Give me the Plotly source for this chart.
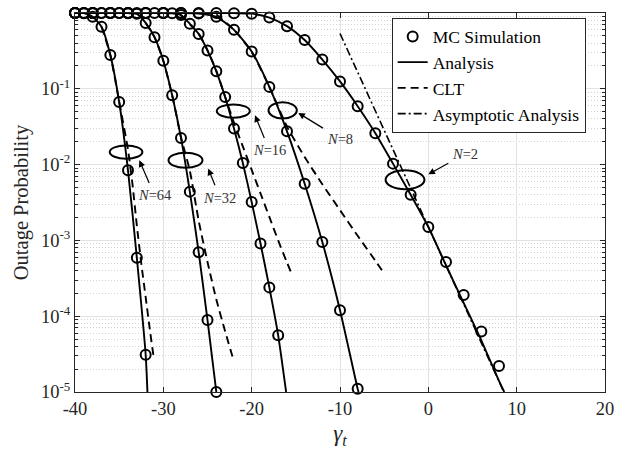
import plotly.graph_objects as go

# ---------------- data ----------------
# Monte-Carlo simulation markers
mc64_x = [-40, -39, -38, -37, -36, -35, -34, -33, -32]
mc64_y = [1.0, 0.995, 0.89, 0.66, 0.28, 0.067, 0.0084, 5.9e-4, 3.1e-5]

mc32_x = [-40, -39, -38, -37, -36, -35, -34, -33, -32, -31, -30, -29, -28, -27, -26, -25, -24]
mc32_y = [1.0, 1.0, 1.0, 1.0, 1.0, 1.0, 0.995, 0.975, 0.74, 0.48, 0.235, 0.082, 0.0225, 0.0044,
          7.0e-4, 8.9e-5, 1.0e-5]

mc16_x = [-40, -39, -38, -37, -36, -35, -34, -33, -32, -31, -30, -29, -28, -27, -26, -25, -24,
          -23, -22, -21, -20, -19, -18, -17]
mc16_y = [1.0, 1.0, 1.0, 1.0, 1.0, 1.0, 1.0, 1.0, 1.0, 1.0, 1.0, 0.99, 0.94, 0.72, 0.53, 0.32, 0.17,
          0.078, 0.030, 0.0105, 0.0032, 9.1e-4, 2.4e-4, 5.6e-5]

mc8_x = [-40, -38, -36, -34, -32, -30, -28, -26, -24, -22, -20, -18, -16, -14, -12, -10, -8]
mc8_y = [1.0, 1.0, 1.0, 1.0, 1.0, 1.0, 0.998, 0.985, 0.89, 0.60, 0.31, 0.106, 0.0275, 0.0056,
         9.5e-4, 1.2e-4, 1.1e-5]

mc2_x = [-40, -38, -36, -34, -32, -30, -28, -26, -24, -22, -20, -18, -16, -14, -12, -10, -8, -6,
         -4, -2, 0, 2, 4, 6, 8]
mc2_y = [1.0, 1.0, 1.0, 1.0, 1.0, 1.0, 1.0, 1.0, 1.0, 0.995, 0.98, 0.87, 0.67, 0.44, 0.243, 0.125,
         0.059, 0.026, 0.0103, 0.004, 0.0015, 5.2e-4, 1.9e-4, 6.3e-5, 2.2e-5]

# Analysis curves
an64_x = [-40, -39, -38, -37, -36, -35, -34, -33, -32, -31.8]
an64_y = [1.0, 0.995, 0.89, 0.66, 0.28, 0.067, 0.0084, 5.9e-4, 3.1e-5, 1.0e-5]

an32_x = [-40, -35, -34, -33, -32, -31, -30, -29, -28, -27, -26, -25, -24]
an32_y = [1.0, 1.0, 0.995, 0.975, 0.74, 0.48, 0.235, 0.082, 0.0225, 0.0044, 7.0e-4, 8.9e-5, 1.0e-5]

an16_x = [-40, -31, -30, -29, -28, -27, -26, -25, -24, -23, -22, -21, -20, -19, -18, -17, -16.1]
an16_y = [1.0, 1.0, 1.0, 0.99, 0.94, 0.72, 0.53, 0.32, 0.17, 0.078, 0.030, 0.0105, 0.0032,
          9.1e-4, 2.4e-4, 5.6e-5, 1.0e-5]

an8_x = [-40, -30, -28, -26, -24, -22, -20, -18, -16, -14, -12, -10, -8, -7.9]
an8_y = [1.0, 1.0, 0.998, 0.985, 0.89, 0.60, 0.31, 0.106, 0.0275, 0.0056, 9.5e-4, 1.2e-4,
         1.1e-5, 1.0e-5]

an2_x = [-40, -24, -22, -20, -18, -16, -14, -12, -10, -8, -6, -4, -2, 0, 2, 4, 6, 8, 8.6]
an2_y = [1.0, 1.0, 0.995, 0.98, 0.87, 0.67, 0.44, 0.243, 0.125, 0.059, 0.026, 0.0103, 0.004,
         0.0015, 4.7e-4, 1.5e-4, 4.8e-5, 1.4e-5, 1.0e-5]

# CLT approximations
clt64_x = [-37, -36, -35, -34, -33.5, -33, -32.5, -32, -31.5, -31.1]
clt64_y = [0.66, 0.279, 0.0676, 0.0158, 5.6e-3, 1.58e-3, 5.0e-4, 1.78e-4, 6.3e-5, 2.9e-5]

clt32_x = [-32, -31, -30, -29, -28, -27, -26, -25, -24, -23, -22.1]
clt32_y = [0.74, 0.48, 0.233, 0.082, 0.0229, 8.3e-3, 1.82e-3, 5.2e-4, 1.66e-4, 6.3e-5, 2.75e-5]

clt16_x = [-28, -27, -26, -25, -24, -23, -22, -21, -20, -19, -18, -17, -16, -15.4]
clt16_y = [0.933, 0.71, 0.535, 0.322, 0.172, 0.078, 0.0355, 0.0174, 8.5e-3, 4.17e-3, 2.04e-3,
           1.0e-3, 5.1e-4, 3.47e-4]

clt8_x = [-24, -22, -20, -18, -16, -14, -12, -10, -8, -6, -5.1]
clt8_y = [0.955, 0.60, 0.306, 0.106, 0.0316, 0.0126, 5.5e-3, 2.51e-3, 1.15e-3, 5.4e-4, 3.8e-4]

# Asymptotic analysis (N=2)
asy2_x = [-10, -5, 0, 5, 8.8]
asy2_y = [0.537, 0.0285, 1.51e-3, 8.0e-5, 8.6e-6]

# axis ticks
x_ticks = [-40, -30, -20, -10, 0, 10, 20]
x_ticktext = ["-40", "-30", "-20", "-10", "0", "10", "20"]
y_ticks = [1e-5, 1e-4, 1e-3, 1e-2, 1e-1, 1]
y_ticktext = ["10<sup>-5</sup>", "10<sup>-4</sup>", "10<sup>-3</sup>", "10<sup>-2</sup>",
              "10<sup>-1</sup>", "10<sup>0</sup>"]

# curve labels: (text, ellipse centre dB, ellipse centre log10 P, width dB, height decades,
#                arrow head (dB, log10 P), text centre (dB, log10 P))
labels = [
    ("N=64", -34.22, -1.834, 3.7, 0.175, (-32.72, -1.943), (-31.0, -2.405)),
    ("N=32", -27.49, -1.943, 3.85, 0.2, (-24.91, -2.053), (-23.6, -2.435)),
    ("N=16", -22.08, -1.293, 3.74, 0.175, (-19.62, -1.35), (-18.0, -1.811)),
    ("N=8", -16.49, -1.284, 3.2, 0.215, (-14.72, -1.319), (-10.0, -1.657)),
    ("N=2", -2.64, -2.2, 4.4, 0.25, (0.0, -2.128), (4.2, -1.855)),
]

FONT = "Liberation Serif, Times New Roman, serif"
AXC = "#262626"

fig = go.Figure()

line_w = 1.9
groups = [
    (an64_x, an64_y, clt64_x, clt64_y, mc64_x, mc64_y),
    (an32_x, an32_y, clt32_x, clt32_y, mc32_x, mc32_y),
    (an16_x, an16_y, clt16_x, clt16_y, mc16_x, mc16_y),
    (an8_x, an8_y, clt8_x, clt8_y, mc8_x, mc8_y),
    (an2_x, an2_y, None, None, mc2_x, mc2_y),
]

for i, g in enumerate(groups):
    fig.add_trace(go.Scatter(
        x=g[4], y=g[5], mode="markers", name="MC Simulation",
        marker=dict(symbol="circle-open", size=10, color="black", line=dict(width=2, color="black")),
        showlegend=(i == 0), legendrank=1, cliponaxis=False))

for i, g in enumerate(groups):
    fig.add_trace(go.Scatter(
        x=g[0], y=g[1], mode="lines", name="Analysis",
        line=dict(color="black", width=line_w, shape="spline", smoothing=0.6),
        showlegend=(i == 0), legendrank=2))

for i, g in enumerate(groups):
    if g[2] is None:
        continue
    fig.add_trace(go.Scatter(
        x=g[2], y=g[3], mode="lines", name="CLT",
        line=dict(color="black", width=line_w, dash="8px,5px", shape="spline", smoothing=0.6),
        showlegend=(i == 0), legendrank=3))

fig.add_trace(go.Scatter(
    x=asy2_x, y=asy2_y, mode="lines", name="Asymptotic Analysis",
    line=dict(color="black", width=line_w - 0.3, dash="8px,3px,2px,3px"),
    legendrank=4))

shapes = []
annotations = []
for (txt, cx, cl, w, h, head, tpos) in labels:
    shapes.append(dict(type="circle", xref="x", yref="y",
                       x0=cx - w / 2, x1=cx + w / 2,
                       y0=10 ** (cl - h / 2), y1=10 ** (cl + h / 2),
                       line=dict(color="black", width=2)))
    n, v = txt.split("=")
    annotations.append(dict(x=head[0], y=head[1], ax=tpos[0], ay=tpos[1],
                            xref="x", yref="y", axref="x", ayref="y",
                            text="<i>" + n + "</i>=" + v, showarrow=True,
                            arrowhead=2, arrowsize=1.1, arrowwidth=1.2, arrowcolor="black",
                            startstandoff=3,
                            font=dict(family=FONT, size=14.5, color="#333333")))

minor_vals = [k * 10.0 ** e for e in range(-5, 0) for k in range(2, 10)]

fig.update_layout(
    width=633, height=454,
    margin=dict(l=75, r=28, t=13, b=62, autoexpand=False),
    plot_bgcolor="white", paper_bgcolor="white",
    font=dict(family=FONT, size=18.5, color=AXC),
    shapes=shapes, annotations=annotations,
    legend=dict(x=0.5975, y=0.988, xanchor="left", yanchor="top",
                bgcolor="white", bordercolor=AXC, borderwidth=1,
                font=dict(family=FONT, size=17.5, color="black"),
                itemwidth=30, tracegroupgap=0),
    xaxis=dict(range=[-40, 20], tickmode="array", tickvals=x_ticks, ticktext=x_ticktext,
               ticks="inside", ticklen=5, tickcolor=AXC, showline=True, linecolor=AXC,
               linewidth=1, mirror="ticks", showgrid=True, gridcolor="#e2e2e2", gridwidth=1,
               zeroline=False, tickfont=dict(family=FONT, size=18.5, color=AXC),
               title=dict(text="<i>γ<sub>t</sub></i>", font=dict(family=FONT, size=23, color=AXC),
                          standoff=6)),
    yaxis=dict(type="log", range=[-5, 0], tickmode="array", tickvals=y_ticks, ticktext=y_ticktext,
               ticks="inside", ticklen=5, tickcolor=AXC, showline=True, linecolor=AXC,
               linewidth=1, mirror="ticks", showgrid=True, gridcolor="#e2e2e2", gridwidth=1,
               zeroline=False, tickfont=dict(family=FONT, size=18.5, color=AXC),
               minor=dict(tickmode="array", tickvals=minor_vals, ticks="inside", ticklen=3,
                          tickcolor=AXC, showgrid=True, gridcolor="#d4d4d4", griddash="1px,2px",
                          gridwidth=1),
               title=dict(text="Outage Probability", font=dict(family=FONT, size=20.5, color=AXC),
                          standoff=6)),
)

fig.write_html("out.html")
